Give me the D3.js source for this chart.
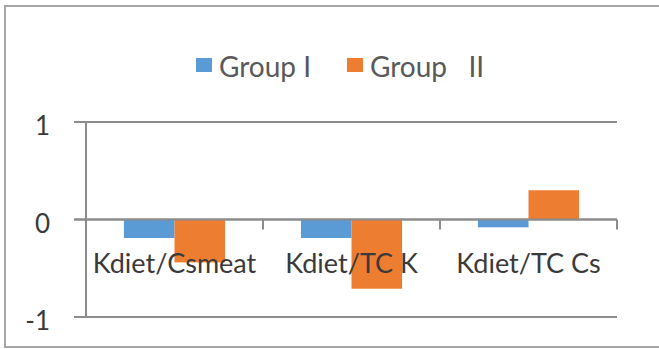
<!DOCTYPE html>
<html>
<head>
<meta charset="utf-8">
<script src="https://cdn.jsdelivr.net/npm/d3@7"></script>
<style>
  html, body { margin: 0; padding: 0; background: #fff; }
  svg { display: block; }
</style>
</head>
<body>
<svg id="chart" width="659" height="349"></svg>
<script>
// Ratios per diet indicator, two study groups
const categories = ["Kdiet/Csmeat", "Kdiet/TC K", "Kdiet/TC Cs"];
const seriesNames = ["Group I", "Group   II"];
const groupI = [-0.19, -0.19, -0.08];
const groupII = [-0.44, -0.71, 0.30];
const yTicks = [-1, 0, 1];
const colors = ["#5b9bd5", "#ed7d31"];

const font = "Lato, 'Open Sans', sans-serif";
const svg = d3.select("#chart");

// outer frame
svg.append("rect")
  .attr("x", 5).attr("y", 6)
  .attr("width", 660).attr("height", 341)
  .attr("fill", "#fff")
  .attr("stroke", "#a6a6a6").attr("stroke-width", 2);

const plot = { left: 86, right: 617, top: 122, bottom: 317 };

const x = d3.scaleBand().domain(categories).range([plot.left, plot.right]).padding(0);
const xs = d3.scaleBand().domain(seriesNames).range([0, x.bandwidth()])
  .paddingInner(0).paddingOuter(0.75);
const y = d3.scaleLinear().domain([-1, 1]).range([plot.bottom, plot.top]);

const gridColor = "#8c8c8c";

// horizontal gridlines with left tick stubs
svg.append("g").selectAll("line")
  .data(yTicks)
  .join("line")
  .attr("x1", plot.left - 12).attr("x2", plot.right)
  .attr("y1", d => y(d)).attr("y2", d => y(d))
  .attr("stroke", gridColor).attr("stroke-width", 2);

// vertical axis
svg.append("line")
  .attr("x1", plot.left).attr("x2", plot.left)
  .attr("y1", y(1)).attr("y2", y(-1))
  .attr("stroke", gridColor).attr("stroke-width", 2);

// y tick labels
svg.append("g").selectAll("text")
  .data(yTicks)
  .join("text")
  .attr("x", 50)
  .attr("y", d => y(d) + 13)
  .attr("text-anchor", "end")
  .attr("font-family", font)
  .attr("font-size", 26)
  .attr("fill", "#3a3a3a")
  .text(d => d);

// bars
const series = [groupI, groupII];
series.forEach((vals, si) => {
  svg.append("g").selectAll("rect")
    .data(vals.map((v, i) => ({ cat: categories[i], v })))
    .join("rect")
    .attr("x", d => x(d.cat) + xs(seriesNames[si]))
    .attr("width", xs.bandwidth())
    .attr("y", d => y(Math.max(0, d.v)))
    .attr("height", d => Math.abs(y(d.v) - y(0)))
    .attr("fill", colors[si]);
});

// category boundary ticks on the zero line
const boundaries = categories.map(c => x(c) + x.bandwidth());
svg.append("g").selectAll("line")
  .data(boundaries)
  .join("line")
  .attr("x1", d => d).attr("x2", d => d)
  .attr("y1", y(0)).attr("y2", y(0) + 10)
  .attr("stroke", gridColor).attr("stroke-width", 2);

// zero line drawn over bars
svg.append("line")
  .attr("x1", plot.left - 12).attr("x2", plot.right)
  .attr("y1", y(0)).attr("y2", y(0))
  .attr("stroke", gridColor).attr("stroke-width", 2);

// category labels
svg.append("g").selectAll("text")
  .data(categories)
  .join("text")
  .attr("x", d => x(d) + x.bandwidth() / 2)
  .attr("y", 273)
  .attr("text-anchor", "middle")
  .attr("font-family", font)
  .attr("font-size", 27)
  .attr("fill", "#3a3a3a")
  .text(d => d);

// legend
const legendItems = [
  { name: seriesNames[0], color: colors[0], sx: 196 },
  { name: seriesNames[1], color: colors[1], sx: 347 }
];
const lg = svg.append("g");
legendItems.forEach(it => {
  lg.append("rect")
    .attr("x", it.sx).attr("y", 58)
    .attr("width", 16).attr("height", 14)
    .attr("fill", it.color);
  lg.append("text")
    .attr("x", it.sx + 23).attr("y", 77)
    .attr("font-family", font)
    .attr("font-size", 28)
    .attr("fill", "#595959")
    .attr("xml:space", "preserve")
    .style("white-space", "pre")
    .text(it.name);
});
</script>
</body>
</html>
